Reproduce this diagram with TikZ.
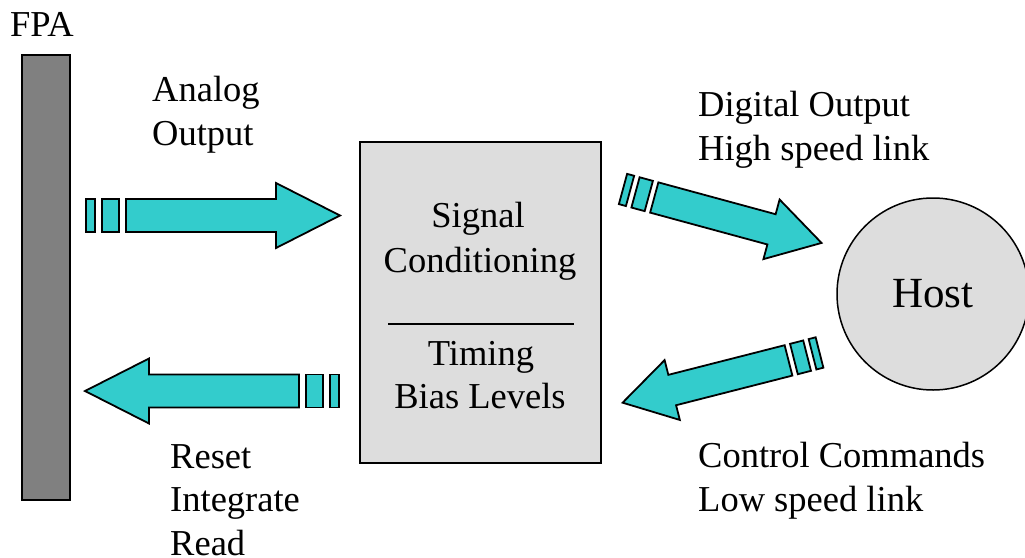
\documentclass[tikz,border=0pt]{standalone}
\usepackage{fontspec}
\setmainfont{Liberation Serif}
\usepackage{tikz}
\usetikzlibrary{positioning}

\definecolor{linkteal}{RGB}{51,204,204}
\definecolor{boxgray}{RGB}{221,221,221}
\definecolor{fpagray}{RGB}{128,128,128}

\tikzset{
  link/.style={draw, fill=linkteal, line width=1.8pt, line join=miter},
  pics/datalink/.style={code={
    \draw[link] (0,-16.5) rectangle (9,16.5);
    \draw[link] (16,-16.5) rectangle (33,16.5);
    \draw[link] (40,-16.5) -- (190,-16.5) -- (190,-32.5) -- (254,0)
      -- (190,32.5) -- (190,16.5) -- (40,16.5) -- cycle;
  }},
}

\begin{document}
\begin{tikzpicture}[x=1pt, y=-1pt,
  lbl/.style={font=\fontsize{36.5}{43.5}\selectfont, align=left, inner sep=0pt, anchor=base west},
  mid/.style={font=\fontsize{36.5}{43.5}\selectfont, inner sep=0pt, anchor=base},
]
\useasboundingbox (0,0) rectangle (1025,557);

% focal plane array
\node[draw, fill=fpagray, line width=1.8pt, minimum width=48pt, minimum height=445pt, inner sep=0pt] (fpa) at (46,277.5) {};
\node[lbl] (fpalbl) at (10,36) {FPA};

% signal conditioning electronics
\node[draw, fill=boxgray, line width=1.5pt, minimum width=241pt, minimum height=321pt, inner sep=0pt] (sigbox) at (480.5,302.5) {};
\node[mid] (sig1) at (478,227) {Signal};
\node[mid] (sig2) at (480,272) {Conditioning};
\draw[line width=1.5pt] (388,324) -- (574,324);
\node[mid] (tim1) at (481,365) {Timing};
\node[mid] (tim2) at (480,408) {Bias Levels};

% host
\node[draw, circle, fill=boxgray, line width=1.5pt, minimum size=192pt, inner sep=0pt,
  font=\fontsize{43}{50}\selectfont] (host) at (933,294) {Host};

% links (base anchor sits on the last line)
\pic (analog) at (86,215.5) {datalink};
\pic[rotate=180] (reset) at (339,391) {datalink};
\pic[rotate=-15.2, xscale=0.81, yscale=0.95] (digital) at (623,189) {datalink};
\pic[rotate=194.3, xscale=0.8, yscale=0.95] (control) at (819.5,352.5) {datalink};

\node[lbl] (anlbl) at (152,145) {Analog\\Output};
\node[lbl] (rslbl) at (170,555) {Reset\\Integrate\\Read};
\node[lbl] (dglbl) at (698,160) {Digital Output\\High speed link};
\node[lbl] (ctlbl) at (698,511) {Control Commands\\Low speed link};
\end{tikzpicture}
\end{document}
